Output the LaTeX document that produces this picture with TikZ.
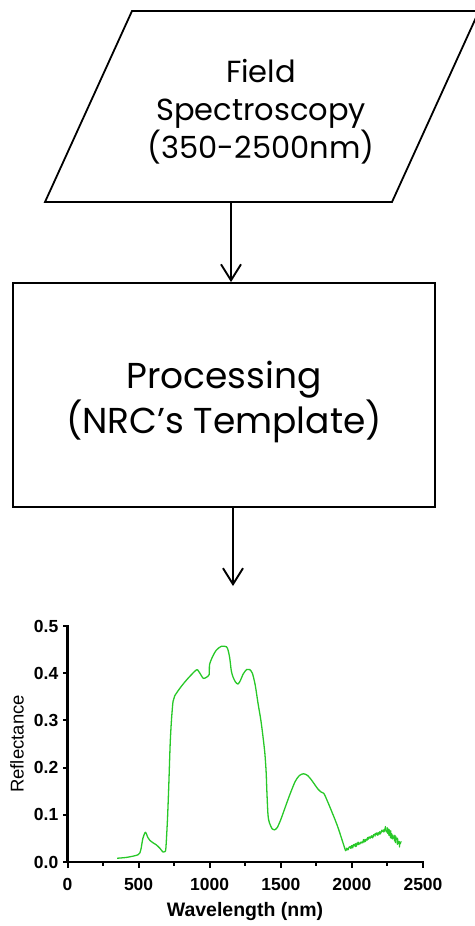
\documentclass[tikz,border=0pt]{standalone}
\usepackage{fontspec}
\setmainfont{Poppins}
\newfontfamily\plotfont{Liberation Sans}
\usetikzlibrary{arrows.meta}
\begin{document}
\begin{tikzpicture}[x=1pt,y=-1pt,
  flowline/.style={line width=1.9pt,-{Straight Barb[length=16pt,width=20pt]}},
  shapeline/.style={line width=1.8pt},
  flowtext/.style={align=center,inner sep=0pt},
  axisline/.style={line width=2.2pt,line cap=rect},
  tickline/.style={line width=2pt},
  ticklabel/.style={font=\plotfont\bfseries\fontsize{17.5}{17.5}\selectfont,inner sep=0pt},
  spectrum/.style={line width=1.3pt,color=specgreen,line join=round}]
\definecolor{specgreen}{RGB}{40,200,40}
\useasboundingbox (0,0) rectangle (474,926);

% input: field spectroscopy (parallelogram)
\draw[shapeline] (132,11) -- (479,11) -- (392,202) -- (45,202) -- cycle;
\node[flowtext,font=\fontsize{30.5}{38}\selectfont] (field) at (261,112)
  {Field\\Spectroscopy\\(350-2500nm)};
\coordinate (fieldout) at (231,202);

% processing step
\node[shapeline,draw,minimum width=422pt,minimum height=224pt,inner sep=0pt]
  (proc) at (224,395) {};
\node[flowtext,font=\fontsize{36}{43}\selectfont] (proctext) at (224,402)
  {Processing\\(NRC’s Template)};
\coordinate (procout) at (233,507);
\coordinate (spectop) at (233,586);

\draw[flowline] (fieldout) -- (fieldout |- proc.north);
\draw[flowline] (procout) -- (spectop);

% reflectance spectrum plot
\begin{scope}[shift={(67.5,862)},x=0.1422pt,y=472pt]
  \draw[axisline] (0,0.5) -- (0,0) -- (2500,0);
  \foreach \v in {0,1,...,5}{
    \draw[tickline] (0,\v/10) -- ([xshift=-5pt]0,\v/10);
    \node[ticklabel,anchor=east] (ylab\v) at ([xshift=-9pt]0,\v/10) {0.\v};
  }
  \foreach \v in {0,500,...,2500}{
    \draw[tickline] (\v,0) -- ([yshift=-6pt]\v,0);
    \node[ticklabel] (xlab\v) at ([yshift=-22pt]\v,0) {\v};
  }
  \foreach \v in {250,750,...,2250}{
    \draw[tickline] (\v,0) -- ([yshift=-4pt]\v,0);
  }
  \draw[spectrum] plot[smooth,tension=0.45] coordinates {
    (349,0.008) (420,0.010) (497,0.0155) (515,0.025) (530,0.05) (548,0.063)
    (565,0.052) (579,0.046) (600,0.041) (626,0.036) (650,0.029) (672,0.021)
    (685,0.022) (692,0.03) (703,0.09) (712,0.16) (722,0.25) (731,0.30)
    (742,0.34) (754,0.352) (800,0.372) (850,0.39) (906,0.407) (920,0.405)
    (937,0.397) (955,0.389) (975,0.391) (996,0.397) (999,0.418) (1020,0.435)
    (1047,0.449) (1082,0.457) (1118,0.456) (1130,0.448) (1141,0.432)
    (1152,0.405) (1164,0.392) (1180,0.382) (1198,0.377) (1215,0.384)
    (1235,0.398) (1260,0.408) (1280,0.408) (1300,0.40) (1320,0.375)
    (1340,0.336) (1360,0.30) (1375,0.265) (1388,0.23) (1397,0.19) (1402,0.15)
    (1410,0.10) (1420,0.083) (1440,0.070) (1455,0.068) (1475,0.073)
    (1500,0.09) (1530,0.115) (1560,0.14) (1600,0.17) (1630,0.183)
    (1660,0.187) (1690,0.183) (1720,0.172) (1760,0.155) (1785,0.148)
    (1800,0.146) (1812,0.14) (1850,0.113) (1900,0.075) (1954,0.025)};
  % noisy long-wave tail
  \pgfmathsetseed{7}
  \draw[spectrum,line width=1.1pt] plot[domain=1954:2348,samples=180,variable=\t]
    ({\t},{(\t<2235 ? 0.025+(\t-1954)*0.00016 : 0.070-(\t-2235)*0.00031)
           + (\t<2235 ? 0.0035 : 0.008)*rand});
\end{scope}
\node[font=\plotfont\fontsize{18.5}{18.5}\selectfont,rotate=90,inner sep=0pt]
  (ytitle) at (17,744) {Reflectance};
\node[font=\plotfont\bfseries\fontsize{19.5}{19.5}\selectfont,inner sep=0pt]
  (xtitle) at (245,911) {Wavelength (nm)};
\end{tikzpicture}
\end{document}
